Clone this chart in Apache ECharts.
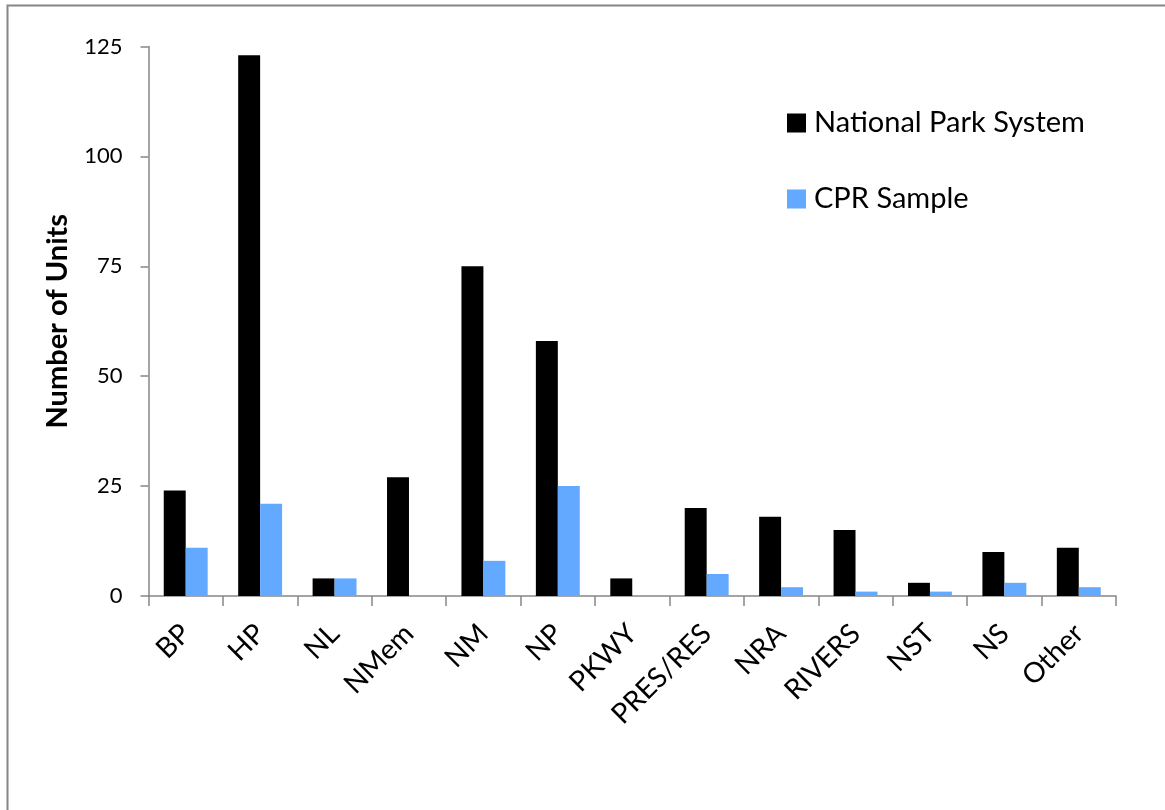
<!DOCTYPE html>
<html>
<head>
<meta charset="utf-8">
<title>National Park System units by designation</title>
<script src="https://cdn.jsdelivr.net/npm/echarts@6/dist/echarts.min.js"></script>
<style>
  html, body { margin: 0; padding: 0; background: #fff; }
  #chart { width: 1165px; height: 810px; }
</style>
</head>
<body>
<div id="chart"></div>
<script>
// Unit designations
const categories = ['BP', 'HP', 'NL', 'NMem', 'NM', 'NP', 'PKWY', 'PRES/RES', 'NRA', 'RIVERS', 'NST', 'NS', 'Other'];
// Number of units in the whole National Park System
const parkSystemUnits = [24, 123, 4, 27, 75, 58, 4, 20, 18, 15, 3, 10, 11];
// Number of units in the CPR sample
const cprSampleUnits = [11, 21, 4, 0, 8, 25, 0, 5, 2, 1, 1, 3, 2];
// Value axis range
const yMin = 0, yMax = 125, yStep = 25;

const FONT = 'Lato, "Open Sans", "Noto Sans", sans-serif';
const AXIS_GREY = '#868686';

const chart = echarts.init(document.getElementById('chart'), null, { renderer: 'canvas' });

chart.setOption({
  animation: false,
  backgroundColor: '#ffffff',
  textStyle: { fontFamily: FONT, color: '#000' },
  graphic: [{
    type: 'rect',
    shape: { x: 7.5, y: 5.5, width: 1300, height: 1000 },
    style: { fill: 'none', stroke: AXIS_GREY, lineWidth: 2 },
    silent: true,
    z: -1
  }],
  grid: { left: 148.5, right: 49, top: 46.5, bottom: 214, containLabel: false },
  legend: {
    orient: 'vertical',
    left: 787,
    top: 108,
    padding: 0,
    itemWidth: 19,
    itemHeight: 19,
    itemGap: 46,
    icon: 'rect',
    selectedMode: false,
    textStyle: { fontFamily: FONT, fontSize: 29, color: '#000', lineHeight: 30, padding: [0, 0, 0, 3] },
    data: ['National Park System', 'CPR Sample']
  },
  xAxis: {
    type: 'category',
    data: categories,
    boundaryGap: true,
    axisLine: { lineStyle: { color: AXIS_GREY, width: 1.5 } },
    axisTick: { show: true, length: 10, lineStyle: { color: AXIS_GREY, width: 1.5 } },
    axisLabel: { rotate: 45, margin: 33, fontFamily: FONT, fontSize: 28, color: '#000', interval: 0 },
    splitLine: { show: false }
  },
  yAxis: {
    type: 'value',
    min: yMin,
    max: yMax,
    interval: yStep,
    name: 'Number of Units',
    nameLocation: 'middle',
    nameRotate: 90,
    nameGap: 76,
    nameTextStyle: { fontFamily: FONT, fontSize: 29, fontWeight: 'bold', color: '#000' },
    axisLine: { show: true, lineStyle: { color: AXIS_GREY, width: 1.5 } },
    axisTick: { show: true, length: 8, lineStyle: { color: AXIS_GREY, width: 1.5 } },
    axisLabel: { margin: 26, fontFamily: FONT, fontSize: 22, color: '#000' },
    splitLine: { show: false }
  },
  series: [
    {
      name: 'National Park System',
      type: 'bar',
      data: parkSystemUnits,
      barGap: '0%',
      barCategoryGap: '41%',
      itemStyle: { color: '#000000' }
    },
    {
      name: 'CPR Sample',
      type: 'bar',
      data: cprSampleUnits,
      barGap: '0%',
      barCategoryGap: '41%',
      itemStyle: { color: '#63A9FF' }
    }
  ]
});
</script>
</body>
</html>
